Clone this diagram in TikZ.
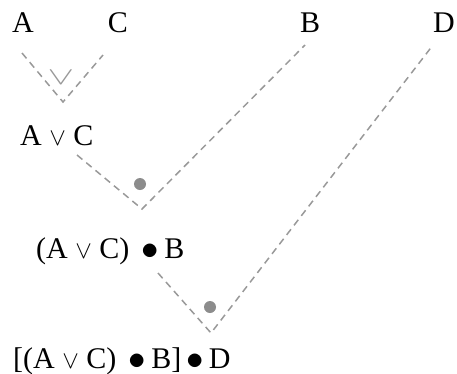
\documentclass[tikz,border=0pt]{standalone}
\usepackage{fontspec}
\setmainfont{Liberation Serif}
\newsavebox\bulbox
\newcommand{\bigdot}{\sbox\bulbox{$\bullet$}\makebox[\wd\bulbox]{\raisebox{-0.05em}{\scalebox{1.4}{$\bullet$}}}}
\begin{document}
\begin{tikzpicture}[x=1pt,y=-1pt,
  lbl/.style={anchor=base,inner sep=0pt,font=\fontsize{30}{32}\selectfont},
  formula/.style={anchor=base west,inner sep=0pt,font=\fontsize{30}{32}\selectfont},
  branch/.style={draw=gray!80,line width=1.5pt,dash pattern=on 7pt off 5pt},
  opdot/.style={circle,fill=gray!90,inner sep=0pt,minimum size=12pt}]
\useasboundingbox (0,0) rectangle (457,373);
% premises
\node[lbl] (A) at (23,32) {A};
\node[lbl] (C) at (118,32) {C};
\node[lbl] (B) at (310,32) {B};
\node[lbl] (D) at (444,32) {D};
% formulas
\node[formula] (AC) at (20,145) {A $\vee$ C};
\node[formula] (ACB) at (36,258) {(A $\vee$ C) \ \bigdot\ B};
\node[formula] (ACBD) at (13,368) {[(A $\vee$ C) \ \bigdot\ B] \bigdot\ D};
% branch end points
\coordinate (a1) at (22,53);
\coordinate (c1) at (103,55);
\coordinate (v1) at (63,102);
\coordinate (ac1) at (77,155);
\coordinate (b1) at (305,45);
\coordinate (v2) at (142,209);
\coordinate (acb1) at (158,273);
\coordinate (d1) at (433,45);
\coordinate (v3) at (211,333);
\draw[branch] (a1) -- (v1) -- (c1);
\draw[branch] (ac1) -- (v2) -- (b1);
\draw[branch] (acb1) -- (v3) -- (d1);
% operator marks
\node[inner sep=0pt,text=gray!80,font=\fontsize{30}{32}\selectfont] (op1) at (61,78) {\scalebox{1.6}[1.0]{$\vee$}};
\node[opdot] (op2) at (140,184) {};
\node[opdot] (op3) at (210,307) {};
\end{tikzpicture}
\end{document}
